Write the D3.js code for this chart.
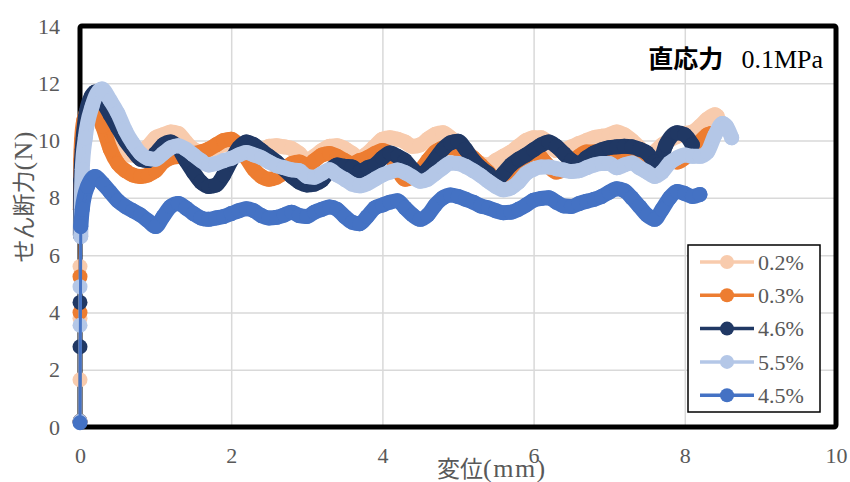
<!DOCTYPE html>
<html>
<head>
<meta charset="utf-8">
<script src="https://cdn.jsdelivr.net/npm/d3@7"></script>
<style>
  body { margin: 0; background: #fff; }
  svg { display: block; }
  .tick text { font-family: "Liberation Serif", "Times New Roman", serif; font-size: 22px; fill: #595959; }
  .grid line { stroke: #d9d9d9; stroke-width: 1.5; }
</style>
</head>
<body>
<div id="chart"></div>
<script>
// series names (legend order = draw order)
var seriesNames = ["0.2%", "0.3%", "4.6%", "5.5%", "4.5%"];
var seriesColors = ["#F8CBAD", "#ED7D31", "#203864", "#B4C7E7", "#4472C4"];

// [displacement mm, shear force N]
var s02 = [[0,0.2],[0,1.65],[0,3.8],[0,5.6],[0.005,7.6],[0.01,9.0],[0.03,10.1],[0.08,10.8],[0.15,11.1],[0.2,11.0],[0.3,10.6],[0.4,10.0],[0.5,9.6],[0.6,9.5],[0.7,9.5],[0.8,9.6],[0.9,9.8],[1.0,10.1],[1.1,10.2],[1.2,10.3],[1.3,10.25],[1.4,9.95],[1.5,9.7],[1.6,9.6],[1.7,9.65],[1.8,9.75],[1.9,9.85],[2.0,9.9],[2.1,9.75],[2.2,9.6],[2.3,9.55],[2.4,9.6],[2.5,9.8],[2.6,9.82],[2.7,9.78],[2.8,9.72],[2.9,9.55],[3.0,9.3],[3.1,9.45],[3.2,9.65],[3.3,9.8],[3.4,9.82],[3.5,9.72],[3.6,9.55],[3.7,9.4],[3.8,9.55],[3.9,9.8],[4.0,10.05],[4.1,10.1],[4.2,10.05],[4.3,9.95],[4.4,9.8],[4.5,9.85],[4.6,10.05],[4.7,10.22],[4.8,10.27],[4.9,10.1],[5.0,9.85],[5.1,9.65],[5.2,9.4],[5.3,9.2],[5.4,9.15],[5.5,9.3],[5.6,9.45],[5.7,9.6],[5.8,9.8],[5.9,10.0],[6.0,10.1],[6.1,10.1],[6.2,9.9],[6.3,9.65],[6.4,9.68],[6.5,9.78],[6.6,9.9],[6.7,10.0],[6.8,10.1],[6.9,10.15],[7.0,10.2],[7.1,10.3],[7.2,10.2],[7.3,10.0],[7.4,9.75],[7.5,9.45],[7.6,9.6],[7.7,9.85],[7.8,10.02],[7.9,10.15],[8.0,10.25],[8.1,10.3],[8.2,10.5],[8.3,10.75],[8.4,10.9],[8.43,10.85]];

var s03 = [[0,0.2],[0,4.0],[0,5.25],[0.005,7.6],[0.01,9.3],[0.02,10.0],[0.05,10.7],[0.12,11.1],[0.2,11.05],[0.3,10.5],[0.4,9.7],[0.5,9.2],[0.6,8.95],[0.7,8.8],[0.8,8.75],[0.9,8.8],[1.0,8.95],[1.1,9.25],[1.2,9.4],[1.3,9.45],[1.4,9.5],[1.5,9.55],[1.6,9.6],[1.7,9.7],[1.8,9.85],[1.9,10.0],[2.0,10.05],[2.1,9.8],[2.2,9.4],[2.3,9.0],[2.4,8.75],[2.5,8.65],[2.6,8.72],[2.7,8.9],[2.8,9.2],[2.9,9.25],[3.0,9.15],[3.1,9.3],[3.2,9.5],[3.3,9.55],[3.4,9.45],[3.5,9.3],[3.6,9.2],[3.7,9.3],[3.8,9.4],[3.9,9.55],[4.0,9.65],[4.1,9.5],[4.2,9.0],[4.3,8.65],[4.4,8.75],[4.5,8.95],[4.6,9.3],[4.7,9.6],[4.8,9.74],[4.9,9.75],[5.0,9.7],[5.1,9.55],[5.2,9.4],[5.3,9.15],[5.4,8.9],[5.5,8.65],[5.6,8.7],[5.7,8.95],[5.8,9.1],[5.9,9.4],[6.0,9.65],[6.1,9.4],[6.2,9.1],[6.3,8.9],[6.4,9.0],[6.5,9.2],[6.6,9.45],[6.7,9.6],[6.8,9.6],[6.9,9.55],[7.0,9.5],[7.1,9.45],[7.2,9.35],[7.3,9.3],[7.4,9.25],[7.5,9.2],[7.6,9.1],[7.7,9.3],[7.8,9.3],[7.9,9.25],[8.0,9.4],[8.1,9.6],[8.2,9.95],[8.3,10.2],[8.35,10.25]];

var s46 = [[0,0.2],[0,2.8],[0,4.35],[0.005,6.7],[0.01,8.6],[0.03,9.7],[0.07,10.8],[0.15,11.55],[0.2,11.7],[0.3,11.35],[0.4,10.9],[0.5,10.45],[0.6,10.0],[0.7,9.65],[0.8,9.35],[0.9,9.3],[1.0,9.55],[1.1,9.85],[1.2,9.95],[1.3,9.75],[1.4,9.3],[1.5,8.9],[1.6,8.55],[1.7,8.4],[1.8,8.45],[1.9,8.8],[2.0,9.3],[2.1,9.75],[2.2,9.95],[2.3,9.85],[2.4,9.65],[2.5,9.45],[2.6,9.25],[2.7,9.0],[2.8,8.75],[2.9,8.55],[3.0,8.45],[3.1,8.48],[3.2,8.62],[3.3,8.95],[3.4,9.15],[3.5,9.1],[3.6,9.08],[3.7,8.92],[3.8,9.05],[3.9,9.15],[4.0,9.4],[4.1,9.57],[4.2,9.45],[4.3,9.3],[4.4,9.0],[4.5,8.8],[4.6,9.0],[4.7,9.35],[4.8,9.7],[4.9,9.92],[5.0,9.98],[5.1,9.7],[5.2,9.32],[5.3,9.05],[5.4,8.85],[5.5,8.6],[5.6,8.85],[5.7,9.15],[5.8,9.35],[5.9,9.5],[6.0,9.68],[6.1,9.85],[6.2,9.95],[6.3,9.8],[6.4,9.55],[6.5,9.3],[6.6,9.2],[6.7,9.4],[6.8,9.57],[6.9,9.68],[7.0,9.75],[7.1,9.78],[7.2,9.8],[7.3,9.78],[7.4,9.7],[7.5,9.57],[7.6,9.25],[7.65,9.15],[7.75,9.85],[7.9,10.27],[8.0,10.2],[8.1,9.85]];

var s55 = [[0,0.2],[0,3.55],[0,4.9],[0.01,6.65],[0.02,8.2],[0.03,9.0],[0.07,10.1],[0.16,11.2],[0.29,11.8],[0.4,11.4],[0.5,10.95],[0.6,10.35],[0.7,9.9],[0.8,9.55],[0.9,9.38],[1.0,9.35],[1.1,9.55],[1.2,9.75],[1.3,9.82],[1.4,9.7],[1.5,9.5],[1.6,9.3],[1.7,9.15],[1.8,9.2],[1.9,9.3],[2.0,9.38],[2.1,9.5],[2.2,9.58],[2.3,9.5],[2.4,9.4],[2.5,9.25],[2.6,9.12],[2.7,9.05],[2.8,8.98],[2.9,8.95],[3.0,8.75],[3.1,8.72],[3.2,8.85],[3.3,8.98],[3.4,8.8],[3.5,8.65],[3.6,8.48],[3.7,8.42],[3.8,8.5],[3.9,8.65],[4.0,8.8],[4.1,8.9],[4.2,8.97],[4.3,8.88],[4.4,8.73],[4.5,8.58],[4.6,8.65],[4.7,8.85],[4.8,9.05],[4.9,9.22],[5.0,9.2],[5.1,9.1],[5.2,8.95],[5.3,8.78],[5.4,8.58],[5.5,8.4],[5.6,8.28],[5.7,8.35],[5.8,8.55],[5.9,8.85],[6.0,9.0],[6.1,9.08],[6.2,9.08],[6.3,9.02],[6.4,8.97],[6.5,8.92],[6.6,8.95],[6.7,9.05],[6.8,9.15],[6.9,9.2],[7.0,9.2],[7.1,9.05],[7.2,9.15],[7.3,9.22],[7.4,9.05],[7.5,8.9],[7.6,8.75],[7.7,8.9],[7.8,9.22],[7.9,9.4],[8.0,9.5],[8.1,9.45],[8.2,9.45],[8.3,9.6],[8.4,10.2],[8.5,10.6],[8.55,10.5],[8.62,10.1]];

var s45 = [[0,0.15],[0.01,7.0],[0.03,7.6],[0.1,8.4],[0.2,8.75],[0.3,8.5],[0.4,8.2],[0.5,7.9],[0.6,7.7],[0.7,7.55],[0.8,7.4],[0.9,7.2],[1.0,7.0],[1.1,7.35],[1.2,7.7],[1.3,7.8],[1.4,7.65],[1.5,7.45],[1.6,7.3],[1.7,7.25],[1.8,7.3],[1.9,7.35],[2.0,7.45],[2.1,7.55],[2.2,7.62],[2.3,7.55],[2.4,7.38],[2.5,7.3],[2.6,7.32],[2.7,7.4],[2.8,7.5],[2.9,7.38],[3.0,7.35],[3.1,7.5],[3.2,7.6],[3.3,7.68],[3.4,7.6],[3.5,7.35],[3.6,7.15],[3.7,7.1],[3.8,7.35],[3.9,7.65],[4.0,7.75],[4.1,7.85],[4.2,7.9],[4.3,7.65],[4.4,7.4],[4.5,7.25],[4.6,7.4],[4.7,7.75],[4.8,8.0],[4.9,8.1],[5.0,8.05],[5.1,7.95],[5.2,7.85],[5.3,7.72],[5.4,7.65],[5.5,7.55],[5.6,7.48],[5.7,7.5],[5.8,7.6],[5.9,7.75],[6.0,7.92],[6.1,7.98],[6.2,8.0],[6.3,7.85],[6.4,7.72],[6.5,7.7],[6.6,7.8],[6.7,7.88],[6.8,7.95],[6.9,8.05],[7.0,8.2],[7.1,8.32],[7.2,8.25],[7.3,8.0],[7.4,7.7],[7.5,7.4],[7.6,7.25],[7.7,7.6],[7.8,8.0],[7.9,8.22],[8.0,8.15],[8.1,8.05],[8.2,8.12]];

var allSeries = [s02, s03, s46, s55, s45];

var xTicks = [0, 2, 4, 6, 8, 10];
var yTicks = [0, 2, 4, 6, 8, 10, 12, 14];

var W = 850, H = 482;
var margin = {t: 26, r: 14, b: 55, l: 80};
var width = W - margin.l - margin.r,
    height = H - margin.t - margin.b;

var svg = d3.select('#chart').append('svg')
    .attr('width', W)
    .attr('height', H);

var x = d3.scaleLinear().domain([0, 10]).range([0, width]);
var y = d3.scaleLinear().domain([0, 14]).range([height, 0]);

var plot = svg.append('g').attr('transform', 'translate(' + margin.l + ',' + margin.t + ')');

// gridlines + tick labels
var xAxis = d3.axisBottom(x).tickValues(xTicks).tickSizeInner(-height).tickSizeOuter(0).tickPadding(20);
var yAxis = d3.axisLeft(y).tickValues(yTicks).tickSizeInner(-width).tickSizeOuter(0).tickPadding(20);

plot.append('g').attr('class', 'grid axis-x')
    .attr('transform', 'translate(0,' + height + ')')
    .call(xAxis);
plot.append('g').attr('class', 'grid axis-y')
    .call(yAxis);
plot.selectAll('.domain').remove();

// plot area border
plot.append('rect')
    .attr('x', 0).attr('y', 0)
    .attr('width', width).attr('height', height)
    .attr('fill', 'none')
    .attr('stroke', '#000')
    .attr('stroke-width', 5)
    .attr('rx', 2);

// data
var line = d3.line()
    .x(function(d) { return x(d[0]); })
    .y(function(d) { return y(d[1]); })
    .curve(d3.curveMonotoneX);
var thinLine = d3.line()
    .x(function(d) { return x(d[0]); })
    .y(function(d) { return y(d[1]); });

allSeries.forEach(function(s, i) {
    var g = plot.append('g').attr('class', 'series');
    var col = seriesColors[i];
    // thick band where markers overlap
    g.append('path')
        .datum(s.filter(function(d) { return d[0] > 0; }))
        .attr('d', line)
        .attr('fill', 'none')
        .attr('stroke', col)
        .attr('stroke-width', 15)
        .attr('stroke-linejoin', 'round')
        .attr('stroke-linecap', 'round');
    g.append('path')
        .datum(s)
        .attr('d', thinLine)
        .attr('fill', 'none')
        .attr('stroke', col)
        .attr('stroke-width', 3);
    g.selectAll('circle')
        .data(s)
        .enter()
        .append('circle')
        .attr('cx', function(d) { return x(d[0]); })
        .attr('cy', function(d) { return y(d[1]); })
        .attr('r', 7.5)
        .attr('fill', col);
});

// annotation
var note = svg.append('text')
    .attr('x', 823).attr('y', 68)
    .attr('text-anchor', 'end')
    .attr('fill', '#000');
note.append('tspan')
    .attr('font-family', '"Noto Sans CJK JP", sans-serif')
    .attr('font-weight', 'bold')
    .attr('font-size', 25)
    .text('直応力');
note.append('tspan')
    .attr('dx', 18)
    .attr('font-family', '"Liberation Serif", serif')
    .attr('font-size', 26)
    .text('0.1MPa');

// legend
var legend = svg.append('g').attr('transform', 'translate(688,245)');
legend.append('rect')
    .attr('width', 132).attr('height', 167)
    .attr('fill', '#fff')
    .attr('stroke', '#000')
    .attr('stroke-width', 1.5);
var items = legend.selectAll('.item')
    .data(seriesNames)
    .enter()
    .append('g')
    .attr('class', 'item')
    .attr('transform', function(d, i) { return 'translate(0,' + (17 + i * 33.3) + ')'; });
items.append('line')
    .attr('x1', 12).attr('x2', 66)
    .attr('stroke', function(d, i) { return seriesColors[i]; })
    .attr('stroke-width', 3.5);
items.append('circle')
    .attr('cx', 39).attr('r', 7)
    .attr('fill', function(d, i) { return seriesColors[i]; });
items.append('text')
    .attr('x', 70).attr('dy', '0.35em')
    .attr('font-family', '"Liberation Serif", serif')
    .attr('font-size', 22)
    .attr('fill', '#595959')
    .text(function(d) { return d; });

// axis titles
var xTitle = svg.append('text')
    .attr('x', 437).attr('y', 477)
    .attr('font-family', '"Liberation Serif", "Noto Sans CJK JP", serif')
    .attr('fill', '#595959');
xTitle.append('tspan').attr('font-size', 23).text('変位');
xTitle.append('tspan').attr('font-size', 26).attr('letter-spacing', 1.5).text('(mm)');

var yTitle = svg.append('text')
    .attr('transform', 'translate(32,130) rotate(-90)')
    .attr('text-anchor', 'end')
    .attr('font-family', '"Liberation Serif", "Noto Sans CJK JP", serif')
    .attr('fill', '#595959');
yTitle.append('tspan').attr('font-size', 23).text('せん断力');
yTitle.append('tspan').attr('font-size', 26).attr('letter-spacing', 1.5).text('(N)');
</script>
</body>
</html>
